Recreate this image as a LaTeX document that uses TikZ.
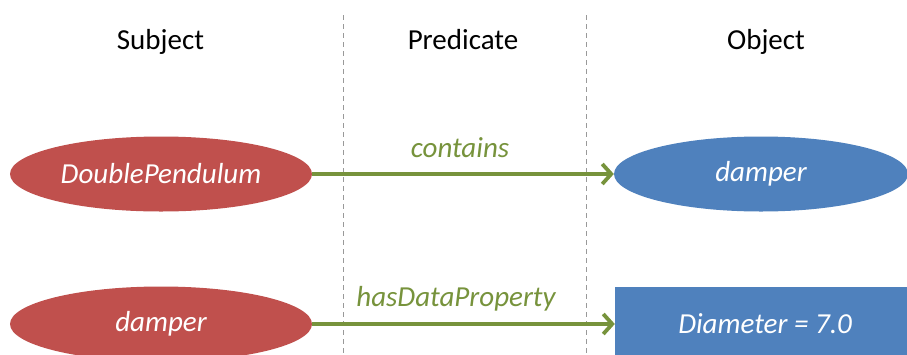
\documentclass[tikz,border=0pt]{standalone}
\usepackage{fontspec}
\setmainfont{Carlito}
\usetikzlibrary{shapes.geometric,arrows.meta}
\definecolor{sred}{HTML}{C0504D}
\definecolor{oblue}{HTML}{4F81BD}
\definecolor{pgreen}{HTML}{77933C}
\begin{document}
\begin{tikzpicture}[x=1pt,y=-1pt,
  every node/.style={font=\fontsize{29}{34}\selectfont},
  header/.style={text=black,anchor=base},
  subj/.style={ellipse,fill=sred,text=white,font=\fontsize{29}{34}\selectfont\itshape,minimum width=302pt,minimum height=75pt,inner sep=0pt},
  objell/.style={ellipse,fill=oblue,text=white,font=\fontsize{29}{34}\selectfont\itshape,minimum width=294pt,minimum height=75pt,inner sep=0pt},
  objbox/.style={rectangle,fill=oblue,text=white,font=\fontsize{29}{34}\selectfont\itshape,minimum width=300pt,minimum height=75pt,inner sep=0pt},
  pred/.style={draw=pgreen,line width=4pt,-{Straight Barb[length=9pt,width=20pt,line width=3.8pt]}},
  predlabel/.style={text=pgreen,anchor=base,font=\fontsize{29}{34}\selectfont\itshape},
  divider/.style={draw=gray!80,line width=0.8pt,dash pattern=on 5pt off 4pt}]
\useasboundingbox (0,0) rectangle (907,354);
\clip (0,0) rectangle (907,354);
\fill[white] (0,0) rectangle (907,354);
\coordinate (d1t) at (343,15); \coordinate (d1b) at (343,354);
\coordinate (d2t) at (586,15); \coordinate (d2b) at (586,354);
\draw[divider] (d1t) -- (d1b);
\draw[divider] (d2t) -- (d2b);
\node[header] (hs) at (160.5,49.3) {Subject};
\node[header] (hp) at (463,49.3) {Predicate};
\node[header] (ho) at (766,49.3) {Object};
\node[subj] (s1) at (161,174) {DoublePendulum};
\node[objell] (o1) at (761,174) {damper};
\node[subj] (s2) at (161,324) {damper};
\node[objbox] (o2) at (765,324) {Diameter = 7.0};
\draw[pred] (s1.east) -- (o1.west);
\draw[pred] (s2.east) -- (o2.west);
\node[predlabel] (l1) at (460,157.5) {contains};
\node[predlabel] (l2) at (456,306.5) {hasDataProperty};
\end{tikzpicture}
\end{document}
